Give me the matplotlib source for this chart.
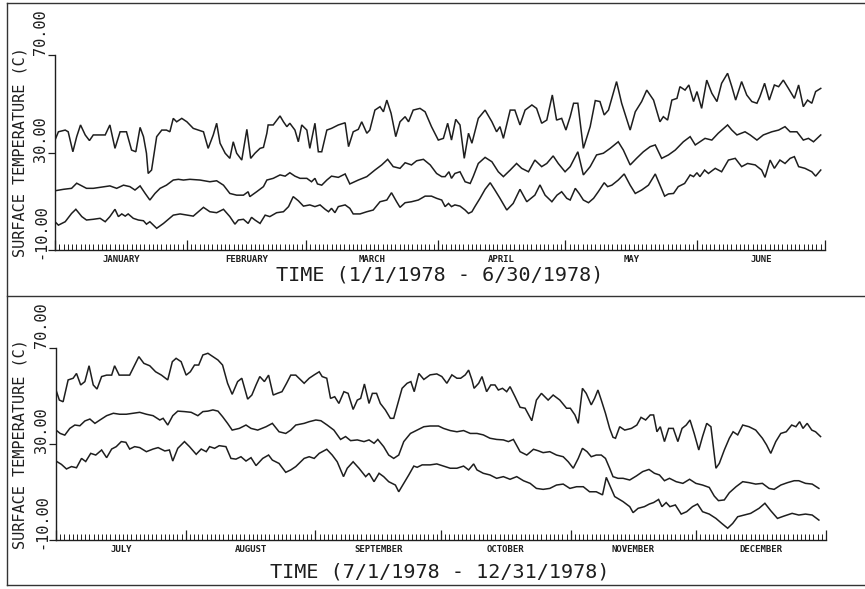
import matplotlib
matplotlib.use("Agg")
import matplotlib.pyplot as plt
from matplotlib.lines import Line2D
import numpy as np

# ---------------- DATA ----------------
# First half 1978 (day 0 = Jan 1)
h1_max_day = [0, 0.8, 2.4, 3.1, 4.2, 5.1, 6.0, 7.1, 8.1, 9.0, 10.6, 11.8, 12.9, 14.1, 15.3, 16.8, 18.0, 19.0, 20.0, 20.8,
              21.5, 21.9, 22.7, 23.9, 25.1, 26.2, 27.0, 27.8, 28.6, 29.8, 31.0, 32.5, 34.9, 36.0, 37.2, 38.0, 38.8, 40.0,
              41.1, 41.9, 42.7, 43.9, 45.1, 46.0, 47.0, 48.2, 49.0, 49.8, 50.1, 51.3, 52.9, 53.7, 54.5, 55.2, 56.4, 57.2,
              58.0, 59.2, 59.9, 61.1, 61.9, 62.7, 63.9, 65.0, 66.6, 68.2, 69.0, 70.1, 71.3, 72.1, 73.3, 74.0, 75.2, 76.4,
              77.2, 78.0, 79.0, 80.1, 81.1, 82.3, 83.1, 84.2, 85.8, 87.0, 88.5, 90.1, 91.3, 92.3, 93.2, 94.2, 95.2, 96.2,
              97.2, 98.0, 99.5, 101.1, 102.7, 103.8, 104.6, 105.4, 107.0, 108.1, 109.3, 110.5, 112.1, 113.2, 114.4,
              115.6, 116.9, 117.9, 119.1, 120.1, 121.1, 121.9, 122.9, 124.2, 125.8, 127.0, 128.1, 129.1, 130.1, 132.0,
              133.2, 135.2, 136.4, 137.9, 139.1, 140.7, 142.2, 143.0, 144.0, 145.0, 146.2, 146.9, 148.1, 149.0, 150.1,
              150.9, 152.0, 153.2, 154.4, 155.6, 156.7, 158.1, 159.1, 160.0, 161.4, 162.6, 163.8, 165.0, 165.7, 166.8,
              167.9, 169.1, 170.1, 171.2, 172.4, 173.8, 174.8, 175.9, 176.9, 177.9, 178.8, 180.0]
h1_max_val = [35.1, 38.5, 39.2, 38.5, 30.3, 36.5, 41.3, 37.2, 34.9, 37.2, 37.2, 37.2, 41.3, 31.7, 38.5, 38.5, 31.0, 30.3,
              40.3, 36.5, 29.7, 21.4, 22.8, 36.5, 39.2, 39.2, 38.5, 44.0, 42.6, 44.0, 42.6, 39.9, 38.5, 31.7, 37.2, 42.0,
              33.8, 29.7, 27.6, 34.4, 29.7, 26.9, 39.5, 27.6, 29.7, 31.7, 32.1, 37.9, 41.3, 41.3, 45.0, 42.6, 40.6, 42.0,
              39.2, 34.4, 41.3, 39.2, 31.7, 42.0, 30.3, 30.3, 39.2, 39.9, 41.3, 42.2, 32.4, 38.5, 39.5, 42.6, 37.9, 39.2,
              47.4, 48.8, 46.7, 51.5, 46.1, 36.5, 42.6, 44.7, 42.6, 47.4, 48.1, 46.7, 40.6, 35.1, 35.8, 42.0, 35.1, 43.6,
              41.3, 27.6, 37.9, 33.8, 44.0, 47.4, 42.6, 38.5, 40.6, 35.8, 47.4, 47.4, 41.3, 47.4, 49.5, 48.1, 42.0, 43.3,
              53.6, 43.3, 44.0, 39.2, 44.7, 50.2, 50.2, 31.7, 40.6, 51.3, 50.9, 45.4, 47.4, 59.1, 50.2, 39.2, 46.7, 50.9,
              55.6, 51.5, 42.6, 44.7, 43.3, 51.5, 52.2, 57.0, 55.6, 57.7, 50.9, 55.0, 48.1, 59.7, 54.3, 50.9, 58.4, 62.5,
              57.0, 51.5, 59.1, 53.6, 50.9, 50.2, 52.9, 58.4, 51.5, 57.7, 57.0, 59.7, 56.3, 52.2, 57.7, 48.8, 51.5, 50.2,
              55.0, 56.3]

h1_mid_day = [0, 2.0, 3.9, 5.1, 6.3, 7.4, 9.0, 10.6, 12.9, 14.5, 16.1, 17.6, 18.8, 20.0, 21.2, 22.3, 23.5, 24.7, 26.2,
              27.8, 29.0, 30.2, 31.7, 34.1, 36.4, 38.0, 39.6, 41.1, 42.7, 44.3, 45.4, 45.8, 47.4, 49.0, 49.8, 51.3, 52.9,
              54.1, 55.2, 56.4, 57.6, 59.2, 60.3, 61.1, 61.7, 62.7, 63.9, 65.0, 66.6, 68.2, 69.3, 71.3, 73.3, 75.2, 76.8,
              78.2, 79.5, 81.1, 82.3, 83.8, 85.0, 86.6, 88.2, 89.7, 90.9, 91.7, 92.6, 93.2, 94.0, 95.2, 96.4, 97.6, 98.3,
              99.5, 101.1, 102.7, 104.2, 105.4, 107.0, 108.5, 109.7, 111.3, 112.8, 114.4, 115.6, 117.1, 118.3, 119.9,
              121.1, 122.9, 124.2, 125.8, 127.3, 128.9, 130.5, 132.4, 133.6, 135.2, 136.7, 138.3, 139.9, 141.1, 142.6,
              144.2, 145.8, 147.7, 149.3, 150.5, 151.6, 152.8, 154.4, 155.9, 158.1, 159.1, 160.3, 162.2, 163.4, 165.0,
              166.5, 168.5, 170.1, 171.6, 172.8, 174.4, 175.9, 177.1, 178.3, 180.0]
h1_mid_val = [14.3, 14.9, 15.3, 17.4, 16.3, 15.3, 15.3, 15.7, 16.3, 15.3, 16.6, 16.0, 14.6, 16.3, 13.2, 10.5, 13.2, 15.3,
              16.6, 18.7, 19.0, 18.7, 19.0, 18.7, 18.0, 18.4, 16.6, 13.2, 12.5, 12.5, 13.9, 11.9, 13.9, 16.0, 18.7, 19.4,
              20.8, 20.3, 21.7, 20.3, 19.4, 19.4, 18.0, 19.4, 17.1, 16.6, 18.7, 20.3, 19.8, 21.2, 17.1, 18.7, 20.1, 22.8,
              24.9, 27.2, 24.2, 23.5, 25.8, 24.9, 26.6, 27.2, 24.9, 21.4, 20.1, 20.1, 22.1, 19.4, 21.4, 22.1, 18.0, 17.3,
              20.1, 25.5, 28.0, 26.2, 22.1, 20.1, 22.8, 25.5, 23.5, 22.1, 26.9, 24.2, 25.5, 28.6, 25.5, 22.1, 24.2, 30.3,
              20.8, 24.2, 29.0, 29.7, 31.7, 34.4, 31.0, 24.9, 27.6, 30.3, 32.4, 33.1, 27.6, 29.0, 31.0, 34.4, 36.5, 33.1,
              34.4, 35.8, 35.1, 37.9, 41.3, 39.2, 37.2, 38.5, 37.2, 35.1, 37.2, 38.5, 39.2, 40.6, 38.5, 38.5, 35.1, 35.8,
              34.4, 37.2]

h1_min_day = [0, 0.8, 2.4, 3.9, 4.9, 6.3, 7.4, 9.0, 10.6, 11.8, 12.9, 14.1, 14.9, 15.7, 16.5, 17.2, 18.4, 19.6, 20.8,
              21.5, 22.3, 23.9, 25.5, 27.8, 29.4, 32.5, 34.9, 36.4, 38.0, 39.6, 41.1, 42.3, 43.1, 44.3, 45.4, 46.2, 47.0,
              48.2, 49.4, 50.5, 52.1, 53.7, 54.9, 56.0, 57.2, 58.4, 59.9, 61.1, 62.3, 63.5, 64.3, 65.0, 65.8, 66.6, 68.2,
              69.3, 70.1, 71.7, 73.3, 74.8, 76.4, 78.0, 79.1, 80.3, 81.1, 82.3, 83.8, 85.4, 87.0, 88.5, 89.7, 90.9, 91.7,
              92.5, 93.2, 94.0, 95.2, 96.4, 97.2, 98.0, 98.7, 99.9, 101.1, 102.3, 103.4, 104.6, 106.2, 107.7, 109.3,
              110.9, 112.8, 114.0, 115.2, 116.8, 118.0, 119.1, 120.3, 121.1, 122.3, 123.2, 124.2, 125.4, 126.6, 127.7,
              129.1, 129.9, 130.9, 132.4, 133.8, 135.2, 136.4, 137.9, 139.5, 141.1, 142.2, 143.3, 144.2, 145.4, 146.5,
              148.0, 149.3, 150.1, 150.9, 151.6, 152.7, 153.6, 155.2, 156.7, 158.3, 159.9, 161.4, 162.8, 164.6, 166.1,
              166.9, 168.1, 169.1, 170.4, 171.6, 172.8, 173.8, 174.8, 176.3, 177.9, 178.8, 180.0]
h1_min_val = [1.6, 0.2, 1.6, 5.0, 6.7, 3.7, 2.3, 2.6, 3.0, 1.6, 3.7, 6.7, 3.7, 4.8, 3.9, 4.8, 3.0, 2.3, 2.0, 0.6, 1.6,
              -1.1, 0.9, 4.3, 4.8, 3.9, 7.5, 5.7, 5.3, 6.7, 3.7, 0.6, 2.3, 2.6, 0.9, 3.4, 2.3, 0.9, 4.3, 3.7, 5.3, 5.7,
              7.8, 11.9, 10.2, 8.0, 8.5, 7.8, 8.5, 6.7, 5.7, 7.1, 5.3, 7.8, 8.5, 7.1, 4.8, 4.8, 5.7, 6.4, 9.8, 10.5, 13.5,
              9.8, 7.5, 9.4, 9.8, 10.5, 12.1, 12.1, 11.2, 10.5, 7.8, 9.1, 7.8, 8.5, 8.0, 6.4, 5.0, 5.7, 7.8, 11.2, 14.9,
              17.6, 14.6, 11.2, 6.4, 9.1, 14.9, 9.8, 12.5, 16.7, 12.5, 9.8, 12.5, 13.9, 11.2, 10.5, 15.3, 13.2, 10.5, 9.4,
              11.2, 13.9, 17.6, 16.0, 16.6, 18.7, 21.2, 16.6, 13.2, 14.6, 16.6, 21.2, 16.6, 12.1, 13.0, 13.2, 16.0, 17.3,
              20.8, 20.1, 21.7, 20.1, 22.8, 21.4, 23.5, 22.1, 26.9, 27.6, 24.2, 25.5, 24.9, 22.8, 19.8, 26.9, 23.5, 26.9,
              25.5, 27.6, 28.3, 24.2, 23.5, 22.1, 20.3, 22.8]

# Second half 1978 (day 0 = Jul 1)
h2_max_day = [0, 0.8, 1.7, 2.9, 4.1, 4.9, 5.9, 6.9, 7.9, 8.9, 9.8, 10.9, 12.1, 13.3, 14.0, 15.1, 16.4, 17.6, 18.8,
              19.8, 21.0, 22.4, 23.8, 25.2, 26.7, 27.8, 28.7, 29.9, 31.1, 32.1, 33.1, 34.1, 35.1, 36.3, 37.5, 38.7, 39.8,
              41.0, 42.1, 43.4, 44.4, 45.8, 46.8, 47.8, 48.7, 49.8, 50.8, 51.9, 52.9, 54.0, 55.1, 56.1, 57.3, 59.3, 60.5,
              61.7, 62.9, 63.6, 64.7, 65.6, 66.6, 67.6, 68.8, 69.8, 71.0, 72.0, 72.8, 73.7, 74.8, 75.6, 76.6, 77.5, 78.7,
              79.9, 80.7, 81.9, 82.7, 83.9, 84.8, 85.6, 86.7, 87.9, 89.4, 91.0, 92.2, 93.4, 94.6, 95.8, 96.7, 97.8, 98.6,
              99.4, 99.9, 101.0, 101.8, 102.9, 103.9, 104.9, 105.7, 106.7, 107.7, 108.5, 109.7, 110.9, 112.1, 113.7,
              114.8, 116.0, 117.6, 118.8, 120.4, 122.0, 122.9, 124.0, 124.8, 125.8, 126.7, 127.9, 128.7, 129.5, 130.3,
              131.3, 132.3, 133.1, 133.7, 134.7, 135.9, 137.5, 138.8, 139.8, 140.9, 142.0, 142.8, 143.6, 144.4, 145.4,
              146.4, 147.5, 148.6, 149.6, 150.6, 151.5, 152.5, 153.6, 154.5, 155.5, 156.5, 157.7, 158.5, 159.7, 160.9,
              161.8, 162.9, 164.1, 165.6, 167.2, 168.8, 169.8, 170.8, 172.0, 173.2, 174.5, 175.8, 176.8, 177.7, 178.5,
              179.5, 180.6, 181.5, 182.7]
h2_max_val = [52.5, 48.3, 47.6, 56.7, 57.4, 59.4, 54.6, 56.0, 62.6, 54.6, 52.9, 58.1, 58.7, 58.7, 62.6, 58.7, 58.7, 58.7,
              62.9, 66.4, 63.6, 62.6, 60.1, 58.7, 56.7, 64.3, 65.7, 64.3, 58.7, 60.1, 62.9, 62.9, 67.1, 67.8, 66.4, 65.0,
              62.9, 55.3, 50.7, 56.0, 57.4, 48.7, 50.4, 54.6, 58.1, 56.0, 58.7, 50.4, 51.1, 51.8, 55.3, 58.7, 58.7, 55.3,
              57.4, 58.8, 60.1, 58.1, 57.4, 49.0, 49.7, 46.9, 51.8, 51.1, 44.4, 48.3, 49.0, 55.0, 46.9, 51.1, 51.1, 46.9,
              44.2, 40.7, 40.7, 48.3, 53.2, 55.3, 56.0, 51.8, 59.4, 56.9, 58.8, 59.2, 58.1, 55.3, 58.8, 57.4, 57.4, 58.8,
              60.8, 56.7, 53.2, 55.3, 58.1, 51.8, 54.6, 54.6, 52.5, 53.2, 51.8, 53.9, 49.7, 45.3, 44.9, 39.7, 48.3, 51.1,
              48.3, 50.4, 48.3, 44.9, 44.9, 42.1, 38.6, 53.2, 51.1, 46.3, 49.0, 52.5, 48.3, 42.8, 36.5, 32.8, 32.4, 37.2,
              35.8, 36.5, 37.9, 41.1, 40.0, 42.1, 42.1, 35.1, 37.2, 31.0, 36.5, 36.5, 31.0, 36.5, 37.9, 40.0, 34.4, 27.5,
              33.1, 38.6, 37.2, 19.9, 21.9, 27.5, 32.4, 35.1, 33.8, 37.9, 37.2, 35.8, 32.4, 29.6, 26.1, 31.0, 34.4, 35.1,
              37.9, 37.2, 39.3, 36.5, 38.6, 35.8, 35.1, 33.1]

h2_mid_day = [0, 1.0, 2.1, 3.3, 4.5, 5.7, 6.9, 8.1, 9.3, 10.5, 12.1, 13.7, 15.2, 16.8, 18.4, 20.0, 21.6, 23.2, 24.8,
              25.6, 26.7, 27.9, 29.1, 30.7, 32.3, 33.9, 35.1, 36.3, 37.5, 38.7, 39.8, 41.0, 42.1, 43.8, 45.4, 46.6, 48.2,
              50.2, 51.7, 53.3, 54.9, 56.1, 57.3, 59.3, 60.5, 62.1, 63.3, 64.8, 66.4, 68.0, 69.2, 70.4, 72.0, 73.6, 74.8,
              76.0, 76.9, 78.3, 79.5, 80.7, 81.9, 83.1, 84.7, 86.3, 87.9, 89.4, 91.4, 92.6, 94.2, 95.8, 97.4, 99.0, 100.6,
              102.1, 103.7, 105.3, 106.9, 108.1, 109.3, 110.9, 112.5, 114.1, 115.2, 116.4, 118.0, 119.6, 121.2, 122.4,
              123.6, 124.8, 125.8, 126.9, 127.9, 129.1, 130.3, 131.3, 132.3, 133.1, 134.3, 135.5, 137.1, 138.7, 140.2,
              141.7, 143.0, 144.2, 145.4, 146.6, 148.2, 149.8, 151.4, 152.9, 154.5, 156.1, 157.3, 158.3, 159.7, 160.9,
              162.5, 164.1, 165.6, 167.2, 168.8, 170.4, 171.6, 173.2, 174.8, 176.4, 177.5, 179.1, 180.7, 182.3]
h2_mid_val = [35.8, 34.4, 33.7, 36.5, 37.9, 37.6, 39.6, 40.4, 38.6, 40.0, 41.8, 42.8, 42.4, 42.4, 42.8, 43.2, 42.4, 41.8,
              40.0, 40.7, 37.9, 41.8, 43.7, 43.5, 43.2, 41.8, 43.5, 43.7, 44.2, 43.7, 41.4, 38.6, 35.8, 36.5, 37.9, 36.5,
              35.8, 37.2, 38.6, 35.1, 34.4, 35.8, 37.9, 38.6, 39.3, 40.0, 39.7, 37.9, 35.8, 31.9, 33.1, 31.4, 31.7, 31.0,
              31.7, 30.3, 31.9, 28.9, 25.4, 24.0, 25.4, 31.0, 34.4, 35.8, 37.2, 37.5, 37.5, 36.5, 35.6, 35.1, 35.6, 34.4,
              34.4, 33.8, 32.4, 31.9, 31.7, 31.0, 31.9, 26.8, 25.4, 27.8, 27.2, 26.4, 26.8, 25.4, 24.7, 22.6, 19.9, 24.0,
              28.2, 26.8, 24.7, 25.4, 25.4, 24.0, 19.9, 16.4, 15.7, 15.7, 15.0, 16.7, 18.5, 19.4, 17.8, 17.1, 14.7, 15.7,
              14.3, 13.6, 15.3, 13.6, 12.9, 11.9, 8.3, 6.4, 6.7, 9.7, 12.2, 14.3, 13.9, 13.3, 13.6, 11.5, 11.1, 12.9,
              13.9, 14.7, 14.7, 13.6, 13.3, 11.5]

h2_min_day = [0, 1.3, 2.5, 3.7, 4.9, 6.1, 7.1, 8.3, 9.5, 10.9, 12.1, 13.3, 14.4, 15.6, 16.7, 17.6, 18.8, 20.0, 21.6,
              23.2, 24.4, 26.0, 27.1, 27.9, 29.1, 30.7, 31.9, 33.5, 34.7, 35.9, 36.7, 37.9, 39.0, 40.6, 41.8, 43.0, 44.2,
              45.4, 46.6, 47.8, 49.4, 50.8, 51.7, 53.3, 54.9, 56.1, 57.3, 59.3, 60.5, 61.7, 62.9, 64.7, 66.0, 67.2, 68.7,
              69.6, 71.0, 72.4, 74.0, 74.8, 76.0, 77.2, 78.3, 79.5, 81.1, 81.9, 83.1, 84.3, 85.5, 86.3, 87.5, 89.4, 91.0,
              92.6, 94.2, 95.8, 97.4, 98.6, 99.8, 100.6, 102.1, 103.7, 105.3, 106.9, 108.5, 110.1, 111.7, 113.3, 114.8,
              116.4, 118.0, 119.6, 121.2, 122.8, 124.4, 126.0, 127.5, 129.1, 130.6, 131.5, 132.3, 133.5, 135.5, 137.1,
              137.9, 139.1, 140.6, 141.8, 142.8, 144.0, 144.8, 145.8, 146.7, 148.0, 149.4, 150.7, 152.1, 153.3, 154.5,
              156.1, 157.7, 159.1, 160.5, 161.7, 162.9, 164.4, 166.0, 168.0, 169.4, 170.8, 172.4, 174.0, 175.9, 177.5,
              179.1, 180.7, 182.3]
h2_min_val = [22.9, 21.5, 19.6, 20.6, 20.1, 24.0, 22.7, 26.1, 25.4, 27.5, 24.3, 27.9, 28.9, 31.0, 30.7, 27.9, 28.9, 28.5,
              26.8, 27.9, 28.5, 27.1, 27.5, 22.9, 28.2, 31.0, 28.9, 25.7, 27.9, 26.8, 28.9, 28.2, 29.3, 28.9, 24.0, 23.7,
              24.7, 22.9, 24.3, 21.0, 24.0, 25.4, 23.3, 21.9, 18.2, 19.2, 20.6, 24.0, 24.7, 24.0, 26.1, 27.8, 25.4, 22.6,
              16.4, 19.9, 22.6, 19.9, 16.4, 17.8, 14.3, 17.8, 16.4, 14.3, 12.9, 10.1, 13.6, 17.1, 20.8, 20.3, 21.3, 21.3,
              21.7, 20.8, 19.9, 19.9, 20.8, 19.2, 21.7, 19.2, 17.8, 17.1, 15.7, 16.4, 15.3, 16.4, 14.7, 13.6, 11.5, 11.1,
              11.5, 12.9, 13.3, 11.5, 12.2, 12.2, 10.1, 10.1, 8.8, 16.1, 12.9, 8.1, 6.0, 3.9, 1.4, 3.2, 3.9, 5.0, 5.6,
              6.9, 3.9, 5.6, 3.9, 4.6, 0.8, 1.8, 3.9, 5.0, 1.8, 0.8, -1.0, -3.1, -5.1, -3.1, -0.3, 0.4, 1.1, 3.2, 5.3,
              2.2, -1.0, 0.0, 1.1, 0.4, 0.8, 0.4, -1.7]

h1_months = ["JANUARY", "FEBRUARY", "MARCH", "APRIL", "MAY", "JUNE"]
h1_month_len = [31, 28, 31, 30, 31, 30]
h2_months = ["JULY", "AUGUST", "SEPTEMBER", "OCTOBER", "NOVEMBER", "DECEMBER"]
h2_month_len = [31, 31, 30, 31, 30, 31]
y_ticks = [-10, 30, 70]
y_tick_labels = ["-10.00", "30.00", "70.00"]
h1_title = "TIME (1/1/1978 - 6/30/1978)"
h2_title = "TIME (7/1/1978 - 12/31/1978)"
y_title = "SURFACE TEMPERATURE (C)"

# ---------------- FIGURE ----------------
W, H = 865, 589
fig = plt.figure(figsize=(W / 100, H / 100), dpi=100)
fig.patch.set_facecolor("white")
MONO = ["DejaVu Sans Mono"]
INK = "#1e1e1e"


def px_axes(x0, x1, y0, y1):
    return fig.add_axes([x0 / W, 1 - y1 / H, (x1 - x0) / W, (y1 - y0) / H])


def style_panel(ax, month_names, month_len, title, title_base_px, ylab_center_px):
    total = sum(month_len)
    ax.set_xlim(0, total)
    ax.set_ylim(-10, 70)
    for s in ["top", "right"]:
        ax.spines[s].set_visible(False)
    for s in ["left", "bottom"]:
        ax.spines[s].set_color(INK)
        ax.spines[s].set_linewidth(1.0)
    bounds = np.concatenate([[0], np.cumsum(month_len)])
    ax.set_xticks(bounds)
    ax.set_xticks(np.arange(0, total + 1), minor=True)
    ax.set_xticklabels([])
    ax.tick_params(axis="x", which="major", direction="in", length=7, width=0.9, color=INK)
    ax.tick_params(axis="x", which="minor", direction="in", length=4, width=0.7, color=INK)
    ax.set_yticks(y_ticks)
    ax.set_yticklabels([])
    ax.tick_params(axis="y", which="major", direction="out", length=5, width=0.9, color=INK)
    # month labels
    for name, b0, ln in zip(month_names, bounds[:-1], month_len):
        ax.annotate(name, xy=(b0 + ln / 2.0, 0), xycoords=("data", "axes fraction"),
                    xytext=(0, -10), textcoords="offset pixels", ha="center", va="center",
                    fontsize=6.5, family=MONO, fontweight="bold", color=INK)
    # y tick labels (rotated, written upward from near the tick)
    offs = {-10: -9, 30: -9, 70: 0}
    for v, lab in zip(y_ticks, y_tick_labels):
        ax.annotate(lab, xy=(0, v), xycoords=("axes fraction", "data"),
                    xytext=(-14, offs[v]), textcoords="offset pixels", rotation=90,
                    ha="center", va="bottom", fontsize=11, family=MONO, color=INK)
    fig.text(440 / W, 1 - title_base_px / H, title, ha="center", va="baseline",
             fontsize=14.5, family=MONO, color=INK)
    fig.text(20 / W, 1 - ylab_center_px / H, y_title, rotation=90, ha="center", va="center",
             fontsize=11, family=MONO, color=INK)


ax1 = px_axes(55, 825, 55, 250)
ax2 = px_axes(56, 826, 348, 540)

for ax, series in [(ax1, [(h1_max_day, h1_max_val), (h1_mid_day, h1_mid_val), (h1_min_day, h1_min_val)]),
                   (ax2, [(h2_max_day, h2_max_val), (h2_mid_day, h2_mid_val), (h2_min_day, h2_min_val)])]:
    for d, v in series:
        ax.plot(d, v, color=INK, lw=1.1, solid_joinstyle="miter")

style_panel(ax1, h1_months, h1_month_len, h1_title, 281, 152)
style_panel(ax2, h2_months, h2_month_len, h2_title, 578, 444)

# frame lines of the original figure
for (xa, xb, ya, yb) in [(7, W, 3, 3), (7, W, 296, 296), (7, W, 585, 585), (7, 7, 3, 585)]:
    fig.add_artist(Line2D([xa / W, xb / W], [1 - ya / H, 1 - yb / H], transform=fig.transFigure,
                          color="#333333", lw=1.0))

fig.savefig("out.png", dpi=100, facecolor="white")
